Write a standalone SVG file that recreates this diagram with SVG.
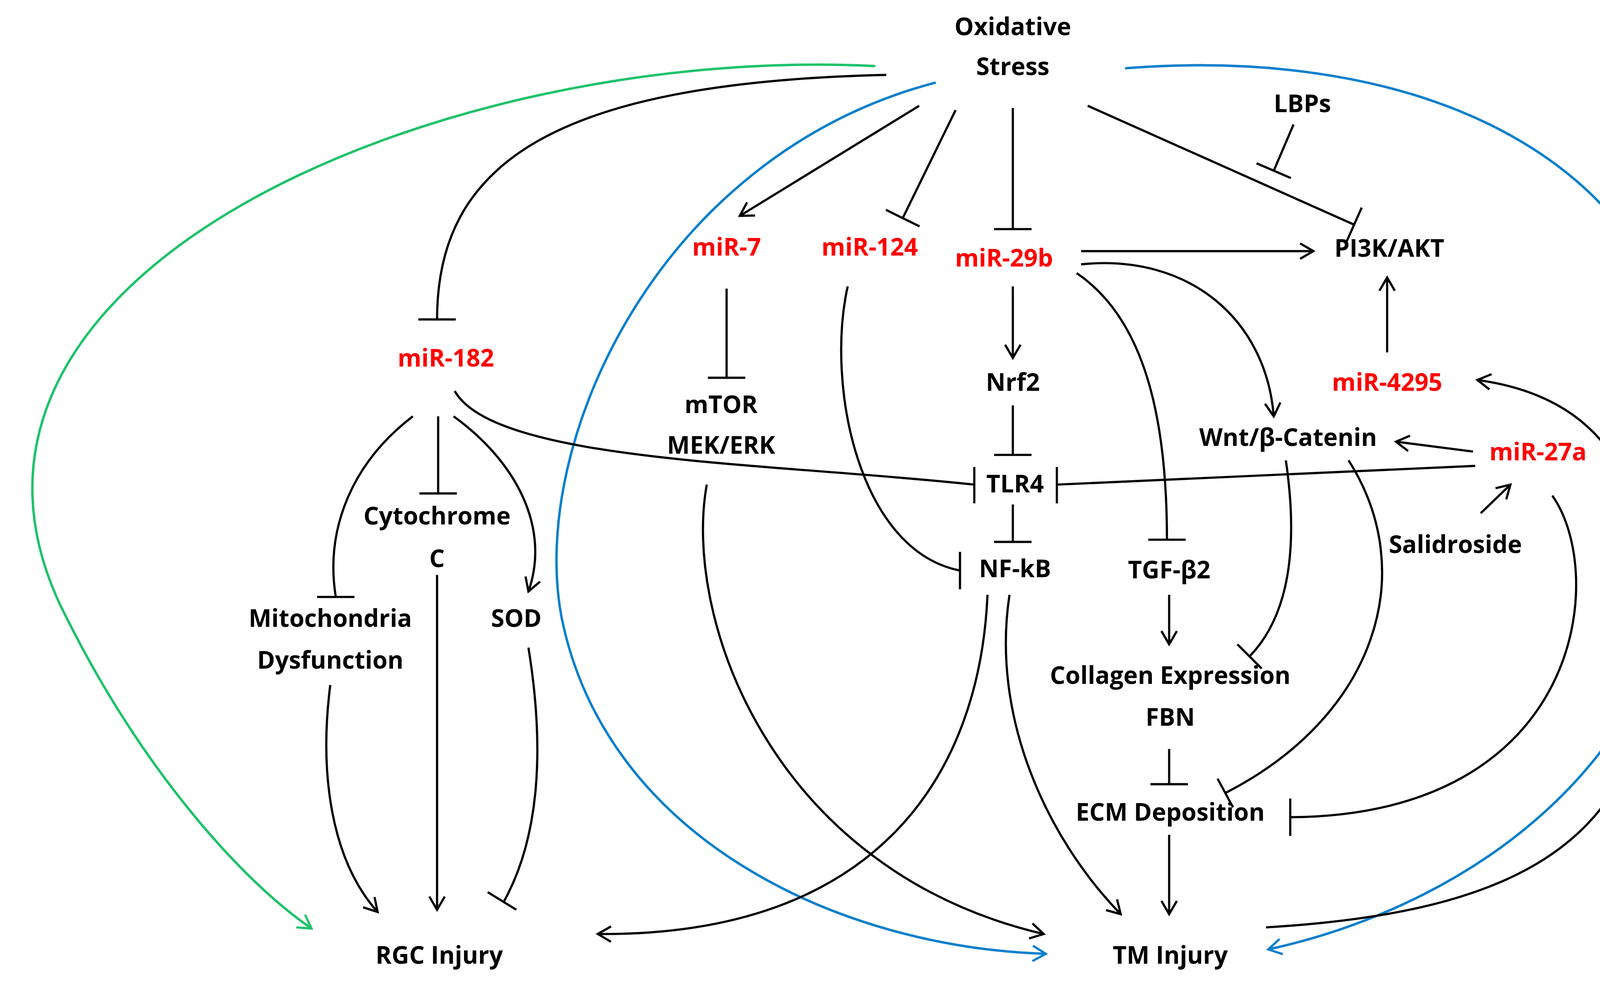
<svg xmlns="http://www.w3.org/2000/svg" width="4419" height="2523" viewBox="0 0 4419 2523">
<style>
.t{font-family:"Open Sans","Liberation Sans",sans-serif;font-weight:bold;font-size:22px;text-anchor:middle;fill:#000}
.r{fill:#ff0000}
.e{fill:none;stroke:#000;stroke-width:2}
.b{fill:none;stroke:#0a7fcc;stroke-width:2.2}
.g{fill:none;stroke:#1ec26a;stroke-width:2.2}
</style>
<defs>
<marker id="a" markerWidth="20" markerHeight="20" refX="14" refY="8" orient="auto" markerUnits="userSpaceOnUse"><path d="M2,1 L14,8 L2,15" fill="none" stroke="#000" stroke-width="2"/></marker>
<marker id="ab" markerWidth="20" markerHeight="20" refX="14" refY="8" orient="auto" markerUnits="userSpaceOnUse"><path d="M2,1 L14,8 L2,15" fill="none" stroke="#0a7fcc" stroke-width="2"/></marker>
<marker id="ag" markerWidth="20" markerHeight="20" refX="14" refY="8" orient="auto" markerUnits="userSpaceOnUse"><path d="M2,1 L14,8 L2,15" fill="none" stroke="#1ec26a" stroke-width="2"/></marker>
</defs>
<rect width="4419" height="2523" fill="#fff"/>
<g transform="scale(2.8183)">
<g id="connectors">
<path class="g" d="M795,60 C400,40 -100,250 60,560 C130,700 220,800 283,843" marker-end="url(#ag)"/>
<path class="b" d="M850,75 C600,140 480,400 510,560 C550,760 760,860 950,866" marker-end="url(#ab)"/>
<path class="b" d="M1022,62 C1300,40 1560,150 1540,450 C1520,720 1300,830 1152,862" marker-end="url(#ab)"/>
<path class="e" d="M805,68 C500,75 397,150 397,290 M380,290 L414,290"/>
<path class="e" d="M835,96 L672,196" marker-end="url(#a)"/>
<path class="e" d="M868,100 L820,198 M804.7,190.5 L835.3,205.5"/>
<path class="e" d="M920,98 L920,208 M903,208 L937,208"/>
<path class="e" d="M988,96 L1230,204 M1236.9,188.5 L1223.1,219.5"/>
<path class="e" d="M1175,113 L1157,155 M1141.4,148.3 L1172.6,161.7"/>
<path class="e" d="M982,228 L1193,228" marker-end="url(#a)"/>
<path class="e" d="M920,260 L920,325" marker-end="url(#a)"/>
<path class="e" d="M920,368 L920,413 M903,413 L937,413"/>
<path class="e" d="M920,458 L920,492 M903,492 L937,492"/>
<path class="e" d="M660,262 L660,343 M643,343 L677,343"/>
<path class="e" d="M770,260 C750,350 780,500 872,518 M872,501 L872,535"/>
<path class="e" d="M978,248 C1040,290 1060,380 1060,490 M1043,490 L1077,490"/>
<path class="e" d="M982,240 C1080,230 1150,290 1157,378" marker-end="url(#a)"/>
<path class="e" d="M413,355 C450,420 700,420 885,440 M885,424 L885,457"/>
<path class="e" d="M1340,423 L960,440 M960,424 L960,457"/>
<path class="e" d="M1338,410 L1268,401" marker-end="url(#a)"/>
<path class="e" d="M1345,466 L1372,440" marker-end="url(#a)"/>
<path class="e" d="M1260,320 L1260,252" marker-end="url(#a)"/>
<path class="e" d="M375,378 C320,420 295,480 305,542 M288,542 L322,542"/>
<path class="e" d="M398,378 L398,448 M381,448 L415,448"/>
<path class="e" d="M412,378 C470,420 500,480 480,537" marker-end="url(#a)"/>
<path class="e" d="M300,622 C290,700 300,780 343,828" marker-end="url(#a)"/>
<path class="e" d="M397,522 L397,826" marker-end="url(#a)"/>
<path class="e" d="M480,588 C495,680 490,760 458,818 M443,810 L469,826"/>
<path class="e" d="M642,440 C620,560 700,790 948,848" marker-end="url(#a)"/>
<path class="e" d="M897,540 C890,700 800,850 543,848" marker-end="url(#a)"/>
<path class="e" d="M917,540 C900,650 950,760 1018,830" marker-end="url(#a)"/>
<path class="e" d="M1062,540 L1062,585" marker-end="url(#a)"/>
<path class="e" d="M1062,680 L1062,712 M1045,712 L1079,712"/>
<path class="e" d="M1168,418 C1180,500 1170,560 1135,596 M1124,585 L1146,607"/>
<path class="e" d="M1225,418 C1290,520 1250,650 1113,720 M1106,707 L1120,733"/>
<path class="e" d="M1410,450 C1460,520 1440,740 1172,742 M1172,725 L1172,759"/>
<path class="e" d="M1062,758 L1062,830" marker-end="url(#a)"/>
<path class="e" d="M1150,842 C1350,830 1490,780 1500,600 C1510,430 1450,360 1342,345" marker-end="url(#a)"/>
</g>
<g id="oxidative"><text class="t" x="920" y="32">Oxidative</text><text class="t" x="920" y="68">Stress</text></g>
<g id="lbps"><text class="t" x="1183" y="102">LBPs</text></g>
<g id="mir7"><text class="t r" x="660" y="232">miR-7</text></g>
<g id="mir124"><text class="t r" x="790" y="232">miR-124</text></g>
<g id="mir29b"><text class="t r" x="912" y="242">miR-29b</text></g>
<g id="pi3k"><text class="t" x="1262" y="233">PI3K/AKT</text></g>
<g id="mir182"><text class="t r" x="405" y="333">miR-182</text></g>
<g id="nrf2"><text class="t" x="920" y="355">Nrf2</text></g>
<g id="mtor"><text class="t" x="655" y="375">mTOR</text><text class="t" x="655" y="412">MEK/ERK</text></g>
<g id="mir4295"><text class="t r" x="1260" y="355">miR-4295</text></g>
<g id="wnt"><text class="t" x="1170" y="405">Wnt/β-Catenin</text></g>
<g id="mir27a"><text class="t r" x="1397" y="418">miR-27a</text></g>
<g id="tlr4"><text class="t" x="922" y="447">TLR4</text></g>
<g id="cyto"><text class="t" x="397" y="476">Cytochrome</text><text class="t" x="397" y="515">C</text></g>
<g id="salid"><text class="t" x="1322" y="502">Salidroside</text></g>
<g id="nfkb"><text class="t" x="922" y="524">NF-kB</text></g>
<g id="tgf"><text class="t" x="1062" y="525">TGF-β2</text></g>
<g id="mito"><text class="t" x="300" y="569">Mitochondria</text><text class="t" x="300" y="607">Dysfunction</text></g>
<g id="sod"><text class="t" x="469" y="569">SOD</text></g>
<g id="collagen"><text class="t" x="1063" y="621">Collagen Expression</text><text class="t" x="1063" y="659">FBN</text></g>
<g id="ecm"><text class="t" x="1063" y="745">ECM Deposition</text></g>
<g id="rgc"><text class="t" x="399" y="875">RGC Injury</text></g>
<g id="tm"><text class="t" x="1063" y="875">TM Injury</text></g>
</g>
</svg>
